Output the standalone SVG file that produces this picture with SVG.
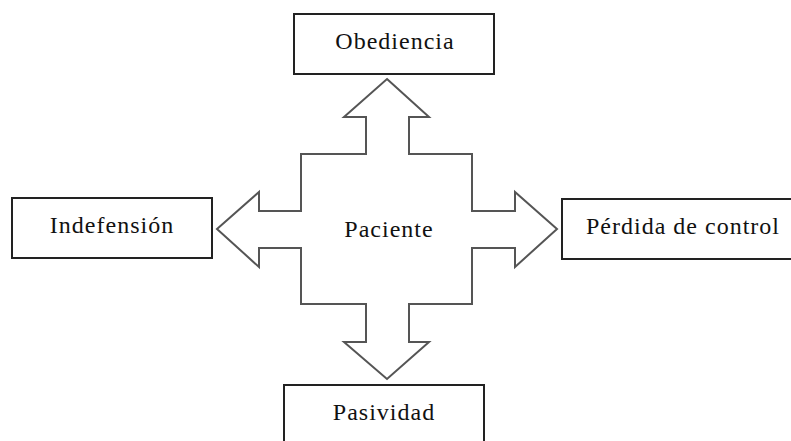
<svg xmlns="http://www.w3.org/2000/svg" width="791" height="441" viewBox="0 0 791 441">
  <style>
    .box { fill: #ffffff; stroke: #222222; stroke-width: 2; }
    .lbl { font-family: "Liberation Serif", "Times New Roman", serif; font-size: 24px; letter-spacing: 1px; fill: #111111; text-anchor: middle; }
    .cross { fill: #ffffff; stroke: #555555; stroke-width: 2; stroke-linejoin: miter; }
  </style>
  <rect width="791" height="441" fill="#ffffff"/>

  <!-- four-way arrow around the central node -->
  <g id="connectors">
    <path class="cross" d="M387,79 L429,117 L409,117 L409,154 L472,154 L472,211 L515,211 L515,192 L557,229 L515,267 L515,248 L472,248 L472,304 L409,304 L409,342 L429,342 L387,379 L344,342 L366,342 L366,304 L301,304 L301,248 L259,248 L259,267 L217,229 L259,192 L259,211 L301,211 L301,154 L366,154 L366,117 L344,117 Z"/>
  </g>

  <g id="paciente">
    <text class="lbl" x="389" y="237">Paciente</text>
  </g>

  <g id="obediencia">
    <rect class="box" x="294" y="14" width="200" height="60"/>
    <text class="lbl" x="395" y="49">Obediencia</text>
  </g>

  <g id="indefension">
    <rect class="box" x="12" y="198" width="200" height="60"/>
    <text class="lbl" x="112" y="233">Indefensión</text>
  </g>

  <g id="perdida">
    <rect class="box" x="562" y="199" width="242" height="60"/>
    <text class="lbl" x="683" y="234">Pérdida de control</text>
  </g>

  <g id="pasividad">
    <rect class="box" x="284" y="385" width="200" height="70"/>
    <text class="lbl" x="384" y="420">Pasividad</text>
  </g>
</svg>
